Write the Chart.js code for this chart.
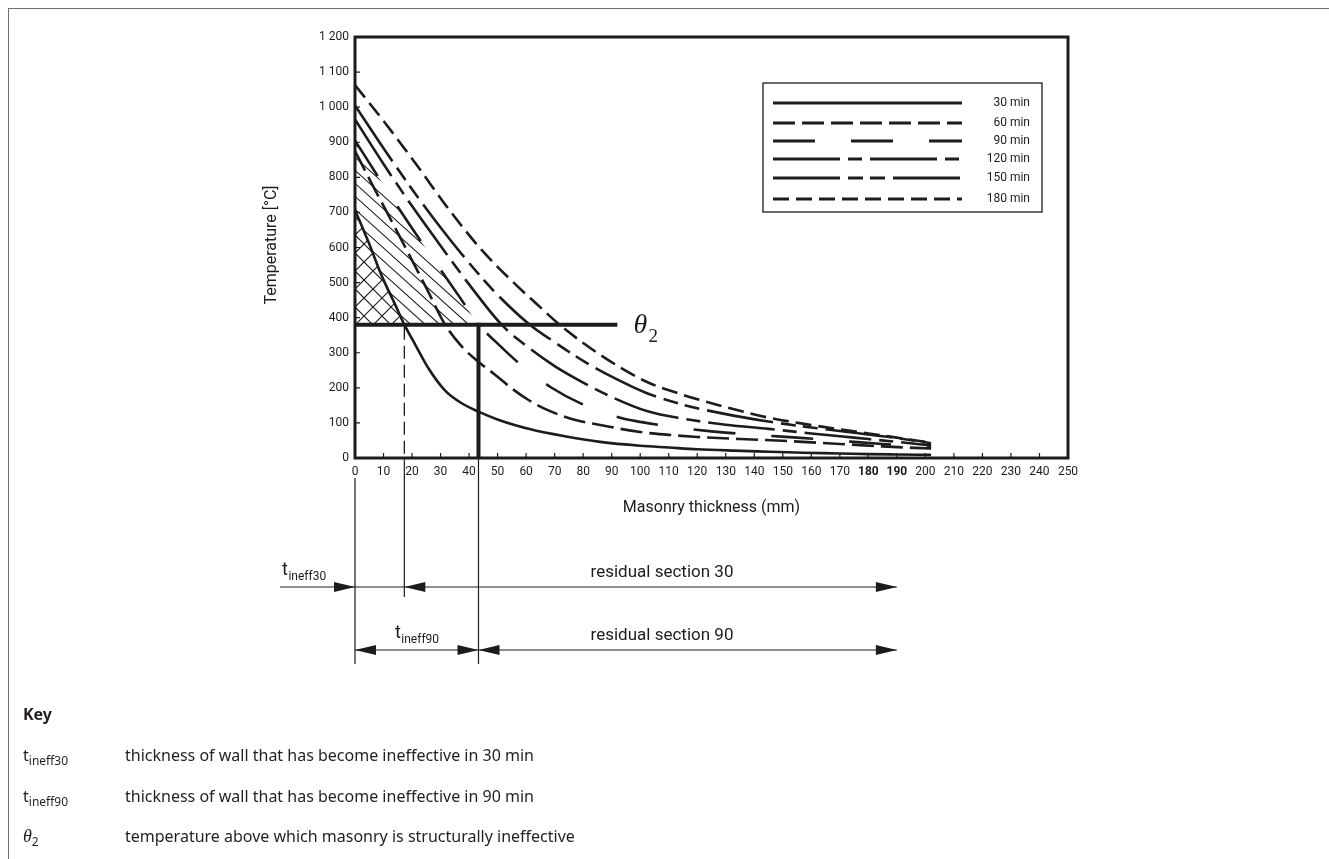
<!DOCTYPE html>
<html><head><meta charset="utf-8">
<script src="https://cdn.jsdelivr.net/npm/chart.js@4.4.0/dist/chart.umd.min.js"></script>
<style>
html,body{margin:0;padding:0;background:#fff;width:1329px;height:859px;overflow:hidden;}
#frame{position:absolute;left:8px;top:8px;width:1340px;height:870px;border-left:1.5px solid #6e6e6e;border-top:1.5px solid #6e6e6e;}
#c{position:absolute;left:0;top:0;}
.k{position:absolute;font-family:'Noto Sans','Open Sans',sans-serif;font-size:16px;color:#231f20;line-height:20px;white-space:nowrap;}
.k sub{font-size:12px;vertical-align:-4px;line-height:0;}
.kh{font-weight:bold;}
.th{font-family:'Liberation Serif','DejaVu Serif',serif;font-style:italic;font-size:18px;}
</style></head>
<body>
<div id="frame"></div>
<canvas id="c" width="1329" height="859"></canvas>
<div class="k kh" style="left:23px;top:704px;">Key</div>
<div class="k" style="left:23px;top:745px;">t<sub>ineff30</sub></div>
<div class="k" style="left:125px;top:745px;">thickness of wall that has become ineffective in 30 min</div>
<div class="k" style="left:23px;top:786px;">t<sub>ineff90</sub></div>
<div class="k" style="left:125px;top:786px;">thickness of wall that has become ineffective in 90 min</div>
<div class="k" style="left:23px;top:826px;"><span class="th">θ</span><sub>2</sub></div>
<div class="k" style="left:125px;top:826px;">temperature above which masonry is structurally ineffective</div>
<script>
// ---------- data ----------
const xTickValues = [0,10,20,30,40,50,60,70,80,90,100,110,120,130,140,150,160,170,180,190,200,210,220,230,240,250];
const boldXTicks = [180,190];
const yTickValues = [0,100,200,300,400,500,600,700,800,900,1000,1100,1200];
const yTickLabels = ['0','100','200','300','400','500','600','700','800','900','1 000','1 100','1 200'];
const seriesLabels = ['30 min','60 min','90 min','120 min','150 min','180 min'];

const theta2 = 380;          // °C
const tIneff30 = 17.3;       // mm
const tIneff90 = 43.3;       // mm
const residualEnd = 190;     // mm
const theta2LineEnd = 92;    // mm

const x30  = [0,4.9,9.5,14.2,tIneff30,21.2,25.8,31.6,37.4,43.3,50.2,61.9,73.5,86,100,110,120,133,145,157,170,180,190,202];
const t30  = [707,612,517,435,theta2,322,255,192,156,132,109,81,62,46,35,30,25,21,18,15,13,11,10,9];
const x60  = [0,6,12,18,25,31.6,37.4,43,49,55,60.7,68,77,86,100,110,120,135,150,170,185,202];
const t60  = [875,780,688,595,485,theta2,318,276,238,198,166,135,109,94,74,66,60,54,49,40,33,27];
const x90  = [0,10,20,30,37,tIneff90,49,57.8,68.8,79.3,93.3,100,110,125,140,155,170,185,202];
const t90  = [905,778,655,537,455,theta2,334,268,201,155,114,103,90,76,66,58,49,40,32];
const x120 = [0,10,20,30,40,51.4,60,70,80,90,102.6,115,130,145,160,175,190,202];
const t120 = [965,838,718,605,495,theta2,320,262,215,174,133,112,95,83,70,58,46,36];
const x150 = [0,10,20,30,40,50,61.3,70,80,90,102.6,115,130,145,160,175,190,202];
const t150 = [1005,883,766,657,556,465,theta2,330,277,232,184,152,125,104,87,72,57,42];
const x180 = [0,9.5,21.2,32.8,44.4,56,64,71.7,86,102.6,115,130,145,160,175,190,202];
const t180 = [1063,966,840,710,593,497,437,theta2,294,216,180,145,115,94,76,58,44];

const xs = [x30,x60,x90,x120,x150,x180];
const ts = [t30,t60,t90,t120,t150,t180];
const dashes = [[],[22,7],[42,36],[67,8,14,8],[67,8,15,7,15,8],[16,7]];

// ---------- layout ----------
const AREA = {left:355, top:37, right:1068, bottom:458};
const Y_W = 90, X_H = 60;
const INK = '#1c1c1c';
const TICK_FONT = "Roboto, 'DejaVu Sans', sans-serif";

function zip(a,b){return a.map((v,i)=>({x:v,y:b[i]}));}

const datasets = seriesLabels.map((lab,i)=>({
  label: lab,
  data: zip(xs[i], ts[i]),
  showLine: true,
  borderColor: INK,
  borderWidth: 2.6,
  borderDash: dashes[i],
  pointRadius: 0,
  cubicInterpolationMode: 'monotone',
  fill: false
}));

function arrow(ctx, tipX, y, dir){
  const L = 21, H = 5;
  ctx.beginPath();
  ctx.moveTo(tipX, y);
  ctx.lineTo(tipX - dir*L, y - H);
  ctx.lineTo(tipX - dir*L, y + H);
  ctx.closePath();
  ctx.fill();
}
function textSub(ctx, main, sub, x, y, size, subSize, align){
  ctx.font = size + "px " + TICK_FONT;
  const w1 = ctx.measureText(main).width;
  ctx.font = subSize + "px " + TICK_FONT;
  const w2 = ctx.measureText(sub).width;
  let sx = x;
  if (align === 'center') sx = x - (w1+w2)/2;
  ctx.textAlign = 'left';
  ctx.textBaseline = 'alphabetic';
  ctx.font = size + "px " + TICK_FONT;
  ctx.fillText(main, sx, y);
  ctx.font = subSize + "px " + TICK_FONT;
  ctx.fillText(sub, sx + w1 + 0.5, y + 5);
}
function trace(ctx, pts, a, b){
  if (a < b){
    for (let i=a+1;i<=b;i++){ const p=pts[i-1], q=pts[i];
      ctx.bezierCurveTo(p.cp2x ?? p.x, p.cp2y ?? p.y, q.cp1x ?? q.x, q.cp1y ?? q.y, q.x, q.y); }
  } else {
    for (let i=a-1;i>=b;i--){ const p=pts[i+1], q=pts[i];
      ctx.bezierCurveTo(p.cp1x ?? p.x, p.cp1y ?? p.y, q.cp2x ?? q.x, q.cp2y ?? q.y, q.x, q.y); }
  }
}
function hatch(ctx, area, spacing, slope){
  const w = area.right-area.left, h = area.bottom-area.top;
  ctx.beginPath();
  for (let c = -w*Math.abs(slope) - h; c < h + w*Math.abs(slope); c += spacing){
    const y0 = area.top + c, y1 = y0 + slope*w;
    ctx.moveTo(area.left, y0); ctx.lineTo(area.right, y1);
  }
  ctx.stroke();
}

const custom = {
  id: 'custom',
  beforeDatasetsDraw(chart){
    const ctx = chart.ctx, xs_ = chart.scales.x, ys_ = chart.scales.y;
    const p30 = chart.getDatasetMeta(0).data, p90 = chart.getDatasetMeta(2).data;
    const i30 = x30.indexOf(tIneff30), i90 = x90.indexOf(tIneff90);
    const X0 = xs_.getPixelForValue(0), YT = ys_.getPixelForValue(theta2);
    const area = chart.chartArea;
    ctx.save();
    ctx.strokeStyle = INK; ctx.lineWidth = 1.1;
    ctx.save();
    ctx.beginPath();
    ctx.moveTo(X0, YT); ctx.lineTo(p30[0].x, p30[0].y);
    trace(ctx, p30, 0, i30); ctx.closePath(); ctx.clip();
    hatch(ctx, area, 18, 1); hatch(ctx, area, 18, -1);
    ctx.restore();
    ctx.save();
    ctx.beginPath();
    ctx.moveTo(p90[0].x, p90[0].y);
    trace(ctx, p90, 0, i90);
    ctx.lineTo(p30[i30].x, p30[i30].y);
    trace(ctx, p30, i30, 0);
    ctx.closePath(); ctx.clip();
    hatch(ctx, area, 13, 0.9);
    ctx.restore();
    ctx.restore();
  },
  afterDatasetsDraw(chart){
    const ctx = chart.ctx, sx = chart.scales.x, sy = chart.scales.y, a = chart.chartArea;
    const px = v => sx.getPixelForValue(v), py = v => sy.getPixelForValue(v);
    ctx.save();
    ctx.strokeStyle = INK; ctx.fillStyle = INK;
    ctx.lineWidth = 4; ctx.setLineDash([]);
    ctx.beginPath(); ctx.moveTo(px(0), py(theta2)); ctx.lineTo(px(theta2LineEnd), py(theta2)); ctx.stroke();
    ctx.beginPath(); ctx.moveTo(px(tIneff90), py(theta2)-2); ctx.lineTo(px(tIneff90), py(0)); ctx.stroke();
    ctx.lineWidth = 1.3; ctx.setLineDash([13,6]);
    ctx.beginPath(); ctx.moveTo(px(tIneff30), py(theta2)+2); ctx.lineTo(px(tIneff30), py(0)); ctx.stroke();
    ctx.setLineDash([]);
    ctx.font = "italic 28px 'Liberation Serif', 'DejaVu Serif', serif";
    ctx.textAlign = 'left'; ctx.textBaseline = 'alphabetic';
    ctx.fillText('θ', px(theta2LineEnd)+16, py(theta2)+8);
    ctx.font = "19px 'Liberation Serif', 'DejaVu Serif', serif";
    ctx.fillText('2', px(theta2LineEnd)+31, py(theta2)+17);
    ctx.lineWidth = 3;
    ctx.strokeRect(a.left, a.top, a.right-a.left, a.bottom-a.top);
    ctx.lineWidth = 1.2;
    ctx.beginPath();
    sy.ticks.forEach(t=>{ const y=py(t.value); ctx.moveTo(a.left, y); ctx.lineTo(a.left+5, y); });
    sx.ticks.forEach(t=>{ const x=px(t.value); ctx.moveTo(x, a.bottom); ctx.lineTo(x, a.bottom-5); });
    ctx.stroke();
    ctx.font = "16px " + TICK_FONT; ctx.fillStyle = INK;
    ctx.textAlign = 'center'; ctx.textBaseline = 'middle';
    ctx.fillText('Masonry thickness (mm)', (a.left+a.right)/2, 508);
    ctx.save(); ctx.translate(272, 245); ctx.rotate(-Math.PI/2);
    ctx.fillText('Temperature [°C]', 0, 0); ctx.restore();
    const LB = {l:763, t:83, r:1042, b:212};
    ctx.lineWidth = 1.3; ctx.strokeRect(LB.l, LB.t, LB.r-LB.l, LB.b-LB.t);
    const rowsY = [103,123,141,159,178,199];
    chart.data.datasets.forEach((ds,i)=>{
      ctx.lineWidth = 2.8; ctx.setLineDash(ds.borderDash);
      ctx.beginPath(); ctx.moveTo(773, rowsY[i]); ctx.lineTo(962, rowsY[i]); ctx.stroke();
      ctx.setLineDash([]);
      ctx.font = "12px " + TICK_FONT; ctx.textAlign = 'right'; ctx.textBaseline = 'middle';
      ctx.fillText(ds.label, 1030, rowsY[i]);
    });
    const X0 = px(0), X30 = px(tIneff30), X90 = px(tIneff90), XE = px(residualEnd);
    const R1 = 587, R2 = 650;
    ctx.lineWidth = 1.2;
    ctx.beginPath();
    ctx.moveTo(X0, 478); ctx.lineTo(X0, 664);
    ctx.moveTo(X30, a.bottom); ctx.lineTo(X30, R1+10);
    ctx.moveTo(X90, a.bottom); ctx.lineTo(X90, 664);
    ctx.moveTo(280, R1); ctx.lineTo(XE, R1);
    ctx.moveTo(X0, R2); ctx.lineTo(XE, R2);
    ctx.stroke();
    arrow(ctx, X0, R1, 1); arrow(ctx, X30, R1, -1); arrow(ctx, XE, R1, 1);
    arrow(ctx, X0, R2, -1); arrow(ctx, X90, R2, 1); arrow(ctx, X90, R2, -1); arrow(ctx, XE, R2, 1);
    ctx.font = "17px " + TICK_FONT; ctx.textAlign = 'center'; ctx.textBaseline = 'alphabetic';
    ctx.fillText('residual section 30', 662, R1-10);
    ctx.fillText('residual section 90', 662, R2-10);
    textSub(ctx, 't', 'ineff30', 282, R1-12, 18, 12, 'left');
    textSub(ctx, 't', 'ineff90', (X0+X90)/2, R2-12, 18, 12, 'center');
    ctx.restore();
  }
};

new Chart(document.getElementById('c'), {
  type: 'scatter',
  data: { datasets },
  options: {
    responsive: false, animation: false, devicePixelRatio: 1,
    layout: { padding: { left: AREA.left - Y_W, top: AREA.top, right: 1329 - AREA.right, bottom: 859 - AREA.bottom - X_H } },
    plugins: { legend: { display: false }, tooltip: { enabled: false } },
    scales: {
      x: {
        type: 'linear', min: 0, max: 250,
        afterFit(s){ s.height = X_H; },
        afterBuildTicks(s){ s.ticks = xTickValues.map(v=>({value:v})); },
        grid: { display: true, drawOnChartArea: false, drawTicks: false },
        border: { display: false },
        ticks: {
          padding: 7, color: INK, maxRotation: 0, autoSkip: false,
          font: c => ({ family: TICK_FONT, size: 12, weight: (c.tick && boldXTicks.includes(c.tick.value)) ? 'bold' : 'normal' })
        }
      },
      y: {
        type: 'linear', min: 0, max: 1200,
        afterFit(s){ s.width = Y_W; },
        afterBuildTicks(s){ s.ticks = yTickValues.map(v=>({value:v})); },
        grid: { display: true, drawOnChartArea: false, drawTicks: false },
        border: { display: false },
        ticks: {
          padding: 6, color: INK, autoSkip: false,
          font: { family: TICK_FONT, size: 12 },
          callback: v => yTickLabels[yTickValues.indexOf(v)]
        }
      }
    }
  },
  plugins: [custom]
});
</script>
</body></html>
